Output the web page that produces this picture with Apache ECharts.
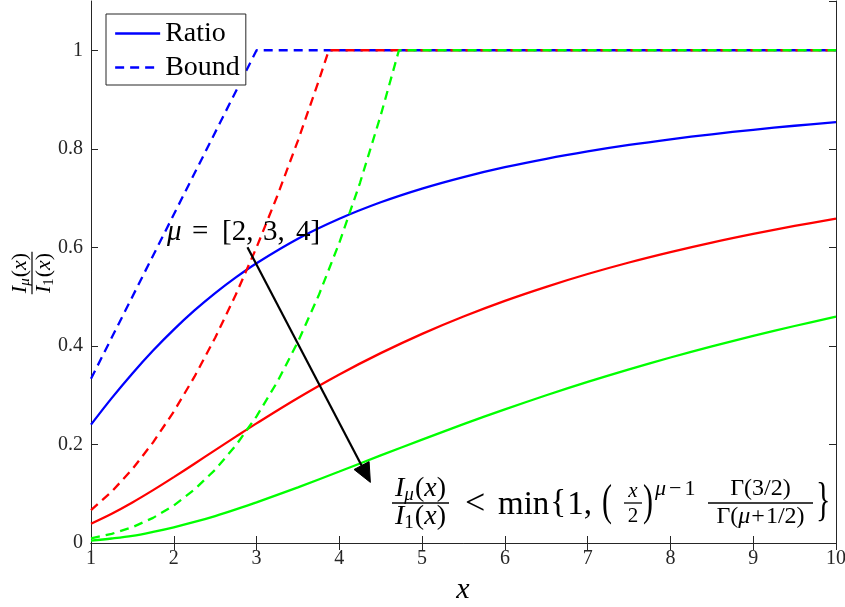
<!DOCTYPE html>
<html>
<head>
<meta charset="utf-8">
<script src="https://cdn.jsdelivr.net/npm/echarts@6/dist/echarts.min.js"></script>
<style>
  html, body { margin: 0; padding: 0; background: #fff; }
  #chart { width: 845px; height: 607px; }
</style>
</head>
<body>
<div id="chart"></div>
<script>
// Ratio I_mu(x) / I_1(x) of modified Bessel functions, mu = 2, 3, 4
const xRatio   = [1, 1.25, 1.5, 1.75, 2, 2.25, 2.5, 2.75, 3, 3.5, 4, 4.5, 5, 5.5, 6, 6.5, 7, 7.5, 8, 8.5, 9, 9.5, 10];
const ratioMu2 = [0.2402, 0.2940, 0.3441, 0.3906, 0.4331, 0.4720, 0.5072, 0.5391, 0.5679, 0.6175, 0.6580, 0.6915, 0.7193, 0.7427, 0.7627, 0.7798, 0.7947, 0.8078, 0.8193, 0.8295, 0.8386, 0.8468, 0.8542];
const ratioMu3 = [0.0392, 0.0594, 0.0823, 0.1073, 0.1337, 0.1610, 0.1885, 0.2159, 0.2428, 0.2943, 0.3420, 0.3853, 0.4245, 0.4597, 0.4915, 0.5200, 0.5459, 0.5693, 0.5904, 0.6097, 0.6273, 0.6435, 0.6583];
const ratioMu4 = [0.0048, 0.0091, 0.0145, 0.0226, 0.0319, 0.0427, 0.0547, 0.0681, 0.0824, 0.1130, 0.1451, 0.1777, 0.2099, 0.2412, 0.2712, 0.2998, 0.3269, 0.3524, 0.3765, 0.3991, 0.4204, 0.4404, 0.4592];

// Upper bound min{1, (x/2)^(mu-1) * Gamma(3/2) / Gamma(mu+1/2)}
const xBound2 = [1, 3, 10];
const bound2  = [0.3333, 1, 1];
const xBound3 = [1, 1.25, 1.5, 1.75, 2, 2.25, 2.5, 2.75, 3, 3.25, 3.5, 3.75, 3.873, 10];
const bound3  = [0.0667, 0.1042, 0.15, 0.2042, 0.2667, 0.3375, 0.4167, 0.5042, 0.6, 0.7042, 0.8167, 0.9375, 1, 1];
const xBound4 = [1, 1.25, 1.5, 1.75, 2, 2.25, 2.5, 2.75, 3, 3.25, 3.5, 3.75, 4, 4.25, 4.5, 4.72, 10];
const bound4  = [0.0095, 0.0186, 0.0321, 0.0510, 0.0762, 0.1085, 0.1488, 0.1981, 0.2571, 0.3269, 0.4083, 0.5022, 0.6095, 0.7311, 0.8679, 1, 1];

const seriesColors = ['#0000ff', '#ff0000', '#00ff00'];
const legendNames  = ['Ratio', 'Bound'];

// Arrow annotation pointing in the direction of increasing mu (data coordinates)
const arrowFrom = [2.89, 0.600];
const arrowTo   = [4.375, 0.123];

const SERIF = '"Liberation Serif", "Times New Roman", serif';
const INK = '#262626';
const LINE_W = 2.3;
const DASH = [9, 6];

const zip = (xs, ys) => xs.map((x, i) => [x, ys[i]]);

const chart = echarts.init(document.getElementById('chart'), null, { renderer: 'canvas' });

function ratioSeries(name, xs, ys, color) {
  return {
    name, type: 'line', data: zip(xs, ys), smooth: 0.35, symbol: 'none', showSymbol: false,
    color, lineStyle: { color, width: LINE_W, type: 'solid' }, z: 3
  };
}
function boundSeries(name, xs, ys, color) {
  return {
    name, type: 'line', data: zip(xs, ys), smooth: false, symbol: 'none', showSymbol: false,
    color, lineStyle: { color, width: LINE_W, type: DASH }, z: 3
  };
}

const baseAxis = {
  axisLine: { show: true, lineStyle: { color: INK, width: 1 } },
  axisTick: { show: true, inside: true, length: 7, lineStyle: { color: INK, width: 1 } },
  splitLine: { show: false }
};

chart.setOption({
  animation: false,
  backgroundColor: '#fff',
  grid: { left: 91, right: 9, top: 1, bottom: 64, containLabel: false, outerBoundsMode: 'none' },
  legend: {
    data: legendNames, orient: 'vertical', left: 106, top: 14,
    padding: [4, 6, 2, 8], itemGap: 3, itemWidth: 45, itemHeight: 14,
    backgroundColor: '#fff', borderColor: INK, borderWidth: 1, borderRadius: 0,
    selectedMode: false,
    itemStyle: { opacity: 0, borderWidth: 0 },
    lineStyle: { width: LINE_W },
    textStyle: { fontFamily: 'Liberation Serif', fontSize: 28, color: '#000', lineHeight: 31 }
  },
  xAxis: [
    Object.assign({}, baseAxis, {
      type: 'value', min: 1, max: 10, interval: 1, position: 'bottom',
      axisLabel: { fontFamily: SERIF, fontSize: 20, color: INK, margin: 6 }
    }),
    Object.assign({}, baseAxis, {
      type: 'value', min: 1, max: 10, interval: 1, position: 'top',
      axisLabel: { show: false }
    })
  ],
  yAxis: [
    Object.assign({}, baseAxis, {
      type: 'value', min: 0, max: 1.1, interval: 0.2, position: 'left',
      axisLabel: {
        fontFamily: SERIF, fontSize: 20, color: INK, margin: 8, showMaxLabel: false,
        formatter: v => (v > 1.05 ? '' : String(+v.toFixed(1)))
      }
    }),
    Object.assign({}, baseAxis, {
      type: 'value', min: 0, max: 1.1, interval: 0.2, position: 'right',
      axisLabel: { show: false }
    })
  ],
  series: [
    ratioSeries('Ratio', xRatio, ratioMu2, seriesColors[0]),
    boundSeries('Bound', xBound2, bound2, seriesColors[0]),
    ratioSeries('Ratio μ=3', xRatio, ratioMu3, seriesColors[1]),
    boundSeries('Bound μ=3', xBound3, bound3, seriesColors[1]),
    ratioSeries('Ratio μ=4', xRatio, ratioMu4, seriesColors[2]),
    boundSeries('Bound μ=4', xBound4, bound4, seriesColors[2])
  ]
});

// ---- math-style text helpers ----
const mctx = document.createElement('canvas').getContext('2d');
function fontOf(size, italic) { return (italic ? 'italic ' : '') + size + 'px ' + SERIF; }
function textWidth(t, size, italic) { mctx.font = fontOf(size, italic); return mctx.measureText(t).width; }

function textEl(t, x, y, size, italic, align, extra) {
  return Object.assign({
    type: 'text', x, y, silent: true,
    style: {
      text: t, font: fontOf(size, italic), fill: '#000',
      align: align || 'left', textAlign: align || 'left',
      verticalAlign: 'middle', textVerticalAlign: 'middle'
    }
  }, extra || {});
}
// items: [text, size, italic, dy, gapBefore]
function rowWidth(items) {
  return items.reduce((w, it) => w + (it[4] || 0) + textWidth(it[0], it[1], it[2]), 0);
}
function row(items, x0, y0) {
  const out = [];
  let x = x0;
  items.forEach(it => {
    x += it[4] || 0;
    out.push(textEl(it[0], x, y0 + (it[3] || 0), it[1], it[2]));
    x += textWidth(it[0], it[1], it[2]);
  });
  return out;
}
function line(x1, y1, x2, y2, w) {
  return { type: 'line', silent: true, shape: { x1, y1, x2, y2 }, style: { stroke: '#000', lineWidth: w || 1 } };
}
// fraction with its bar spanning [xa, xb] at barY
function frac(num, den, xa, xb, barY, numOff, denOff, barW) {
  const cx = (xa + xb) / 2;
  const wn = rowWidth(num), wd = rowWidth(den);
  return [
    ...row(num, cx - wn / 2, barY - numOff),
    ...row(den, cx - wd / 2, barY + denOff),
    line(xa, barY, xb, barY, barW || 1.2)
  ];
}
// tall delimiter drawn as stretched glyph
function delim(t, x, y, size, sy) {
  return textEl(t, x, y, size, false, 'left', { scaleY: sy });
}

function buildGraphics() {
  const els = [];

  // --- formula: I_mu(x)/I_1(x) < min{1, (x/2)^(mu-1) Gamma(3/2)/Gamma(mu+1/2)} ---
  const axisY = 503;
  const S = 28, s = 19;
  els.push(...frac(
    [['I', S, true], ['μ', s, true, 6, 0], ['(', S, false, 0, 1], ['x', S, true], [')', S, false]],
    [['I', S, true], ['1', s, false, 6, 0], ['(', S, false, 0, 1], ['x', S, true], [')', S, false]],
    392, 449, axisY, 14, 14, 1.4
  ));
  els.push(textEl('<', 465, axisY + 2, 36, false));
  els.push(...row([['min', 33, false, 2], ['{', 33, false, 0, 1], ['1,', 33, false, 2, 1]], 498, axisY));
  els.push(delim('(', 602, axisY, 30, 1.5));
  els.push(...frac([['x', 21, true]], [['2', 21, false]], 624, 642, axisY, 12, 13, 1.3));
  els.push(delim(')', 643, axisY, 30, 1.5));
  els.push(...row([['μ', 22, true, 0], ['−', 22, false, 0, 3], ['1', 22, false, 0, 3]], 655, axisY - 14));
  els.push(...frac(
    [['Γ', 24, false], ['(3/2)', 24, false]],
    [['Γ', 24, false], ['(', 24, false], ['μ', 24, true], ['+', 24, false, 0, 1], ['1/2)', 24, false, 0, 1]],
    708, 813, axisY, 14, 14, 1.4
  ));
  els.push(delim('}', 816, axisY, 30, 1.55));

  // --- mu label ---
  const ML = 29, my = 232;
  els.push(textEl('μ', 167, my, ML, true));
  els.push(textEl('=', 192, my, ML, false));
  els.push(textEl('[2,', 222, my, ML, false));
  els.push(textEl('3,', 263, my, ML, false));
  els.push(textEl('4]', 296, my, ML, false));

  // --- arrow ---
  const p1 = chart.convertToPixel({ gridIndex: 0 }, arrowFrom);
  const p2 = chart.convertToPixel({ gridIndex: 0 }, arrowTo);
  const dx = p2[0] - p1[0], dy = p2[1] - p1[1];
  const len = Math.hypot(dx, dy), ux = dx / len, uy = dy / len;
  const headL = 19, headW = 8.5;
  const bx = p2[0] - ux * headL, by = p2[1] - uy * headL;
  els.push(line(p1[0], p1[1], bx + ux * 2, by + uy * 2, 2.2));
  els.push({
    type: 'polygon', silent: true,
    shape: { points: [[p2[0], p2[1]], [bx - uy * headW, by + ux * headW], [bx + uy * headW, by - ux * headW]] },
    style: { fill: '#000', stroke: '#000', lineWidth: 1 }
  });

  // --- x-axis title ---
  els.push(textEl('x', 463, 590, 30, true, 'center'));

  // --- y-axis title: rotated fraction I_mu(x)/I_1(x) ---
  const yS = 22, ys = 15;
  const fnum = [['I', yS, true], ['μ', ys, true, 5, 0], ['(', yS, false, 0, 1], ['x', yS, true], [')', yS, false]];
  const fden = [['I', yS, true], ['1', ys, false, 5, 0], ['(', yS, false, 0, 1], ['x', yS, true], [')', yS, false]];
  const fw = Math.max(rowWidth(fnum), rowWidth(fden)) + 2;
  els.push({
    type: 'group', x: 32, y: 273 + fw / 2, rotation: Math.PI / 2, silent: true,
    children: frac(fnum, fden, 0, fw, 0, 12, 12, 1.2)
  });

  return els;
}

chart.setOption({ graphic: { elements: buildGraphics().map(e => Object.assign({ z: 100 }, e)) } });
</script>
</body>
</html>
